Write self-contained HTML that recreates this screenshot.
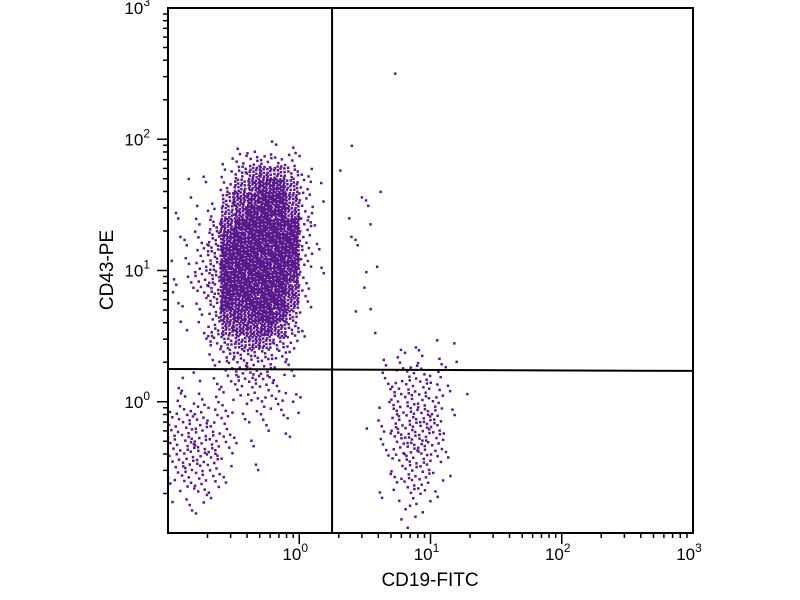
<!DOCTYPE html>
<html><head><meta charset="utf-8"><style>
html,body{margin:0;padding:0;background:#fff;}
svg{display:block;font-family:"Liberation Sans",sans-serif;}
</style></head><body>
<svg id="chart" width="800" height="600" viewBox="0 0 800 600" xmlns="http://www.w3.org/2000/svg">
<g id="dots"></g>
<g id="axes"></g>
<text x="430" y="586" font-size="19" text-anchor="middle">CD19-FITC</text>
<text transform="translate(113,270) rotate(-90)" font-size="19" text-anchor="middle">CD43-PE</text>
</svg>
<script>
// log10 density grid: columns log x from -1.0 step 0.1; rows log y from 2.0 downward step 0.1
const densityRows = [
"0000011111000000000000000",
"0000245643100000000000000",
"001039bcb8300100000000000",
"01105bdeeb410000000000000",
"0101adeffc410011000000000",
"1013bdfffc410001000000000",
"1027dfffff610101000000000",
"1138efffff510110000000000",
"0149ffffff510010000000000",
"1259ffffff410001000000000",
"1259fffffe310001000000000",
"2148fffffd300010000000000",
"1137fefffc200001000000000",
"1026deefea100010000000000",
"0118cddec8100001000000000",
"00159bcb95100000001011000",
"0003689852000000121211000",
"0101367622000000234321000",
"1112356521000000245531000",
"2222224442100000156641100",
"3443312321000000267751000",
"4554311211000000267861000",
"5665311111000001368851000",
"5776311000000000258741000",
"4665201000000000147631000",
"3554101000000000136521000",
"2443100000000000125410000",
"1221000000000000113210000",
"0110000000000000012100000",
"0000000000000000001000000"
];
const countCodes = {a:12,b:16,c:20,d:26,e:32,f:40};
const outlierLogX = [0.73, 0.4, 0.62];
const outlierLogY = [2.5, 1.95, 1.6];
const xTickLabels = ["10","10","10","10"];
const xTickExp = ["0","1","2","3"];
const yTickExp = ["0","1","2","3"];
const gateLogX = 0.25;
const gateLogY = [0.25, 0.235];

const X0=168,X1=693,Y0=8,Y1=533;
const xs = v => X0 + (v+1)/4*(X1-X0);
const ys = v => Y1 - (v+1)/4*(Y1-Y0);
const NS="http://www.w3.org/2000/svg";
const dots=document.getElementById('dots');
const axes=document.getElementById('axes');
function mk(tag,attrs,parent){const e=document.createElementNS(NS,tag);for(const k in attrs)e.setAttribute(k,attrs[k]);parent.appendChild(e);return e;}
const col="#5a1a8c";
function dot(lx,ly){
  const d=mk('rect',{x:(xs(lx)-1.2).toFixed(1),y:(ys(ly)-1.2).toFixed(1),width:2.5,height:2.5,fill:col},dots);
  
  
}
densityRows.forEach((row,r)=>{
  for(let c=0;c<row.length;c++){
    const ch=row[c];
    const n = countCodes[ch]!==undefined?countCodes[ch]:parseInt(ch,10);
    for(let k=0;k<n;k++){
      const fx=((k+1)*0.7548777+c*0.31+r*0.17)%1;
      const fy=((k+1)*0.5698403+c*0.23+r*0.41)%1;
      dot(-1+0.1*(c+fx), 2.0-0.1*(r+fy));
    }
  }
});
outlierLogX.forEach((v,i)=>dot(v,outlierLogY[i]));

const fr=mk('rect',{x:X0,y:Y0,width:X1-X0,height:Y1-Y0,fill:'none',stroke:'#000','stroke-width':2},axes);

const gv=mk('line',{x1:xs(gateLogX),y1:Y0,x2:xs(gateLogX),y2:Y1,stroke:'#000','stroke-width':2},axes);

const gh=mk('line',{x1:X0,y1:ys(gateLogY[0]),x2:X1,y2:ys(gateLogY[1]),stroke:'#000','stroke-width':2},axes);

for(let d=-1;d<3;d++){
  for(let m=1;m<=9;m++){
    const v=d+Math.log10(m);
    const len=m===1?11:5;
    if(d===-1&&m===1)continue;
    const tx=mk('line',{x1:xs(v),y1:Y1,x2:xs(v),y2:Y1+len,stroke:'#000','stroke-width':1.5},axes);
    
    const ty=mk('line',{x1:X0,y1:ys(v),x2:X0-len,y2:ys(v),stroke:'#000','stroke-width':1.5},axes);
    
  }
}
xTickExp.forEach((e,i)=>{
  const t=mk('text',{x:xs(i)-4,y:560,'font-size':17,'text-anchor':'middle'},axes);
  
  t.textContent=xTickLabels[i];
  const s=mk('tspan',{dy:-8,'font-size':12},t);s.textContent=e;
});
yTickExp.forEach((e,i)=>{
  const t=mk('text',{x:150,y:ys(i)+6,'font-size':17,'text-anchor':'end'},axes);
  
  t.textContent="10";
  const s=mk('tspan',{dy:-8,'font-size':12},t);s.textContent=e;
});
</script>
</body></html>
